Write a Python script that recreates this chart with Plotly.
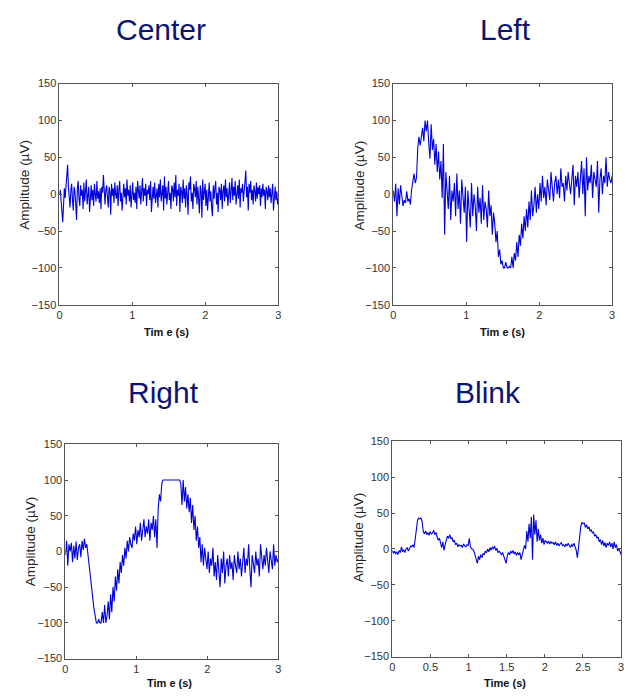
import numpy as np
import plotly.graph_objects as go

W, H = 632, 696

# ---------------- data ----------------
center_uv = [
    0, 6, -8, -20, -38, -15, 8, -5, 12, 20,
    40, 10, -12, -18, 6, 14, -8, -22, 10, 4,
    -14, -35, 8, 18, -6, -16, 12, -2, 6, -20,
    16, -10, 4, 20, -14, -4, 10, -24, 2, 12,
    -8, 6, -16, 14, 0, -10, 18, -6, 4, -12,
    8, -20, 10, 2, 26, -8, -14, 6, 12, -4,
    -18, 10, 4, -28, 14, -2, 8, -12, 16, 0,
    -6, 12, -16, 6, 18, -10, 2, -22, 10, 14,
    -4, 8, -14, 20, -2, 6, -10, 12, -18, 4,
    16, -8, 2, -12, 10, -20, 18, 6, -6, 12,
    -14, 4, 22, -10, 8, -2, 14, -16, 6, 0,
    12, -8, 18, -24, 4, 10, -6, 16, -12, 2,
    8, -18, 14, -4, 20, -10, 6, 12, -22, 24,
    -6, 10, -14, 4, 18, -8, 2, -20, 12, 8,
    -10, 16, -4, 26, -16, 6, -2, 14, -24, 10,
    4, -12, 20, -6, 8, -18, 12, 0, -28, 16,
    6, 24, -10, 2, -20, 14, 8, -4, 18, -14,
    10, -6, -26, 12, 4, -32, 20, -8, 2, 14,
    -16, 6, -22, 10, 16, -10, 4, -18, -30, 12,
    -6, 8, 18, -14, 2, -24, 10, 6, -8, 14,
    -20, 4, 12, -10, 20, -4, 8, -16, 2, 16,
    -12, 6, 22, -8, 10, -2, 18, -14, 4, 12,
    -6, 20, -18, 8, 2, 14, -10, 6, 16, 32,
    -4, 10, -22, 14, 2, 18, -8, 6, -14, 12,
    4, -10, 16, -6, 10, 0, 12, -16, 8, -4,
    14, -2, 6, -20, 10, 4, -8, 12, -4, 8,
    -12, 6, 14, -22, 2, 10, -8, 4, -14, -6,
]

left_uv = [
    5, -10, 14, -30, 8, -14, 12, -4, -16, -8, -12, 4, -10, -6, -14, 6,
    18, 28, 15, 22,
    62, 78, 66, 80, 90, 72, 100, 85, 100, 70,
    48, 95, 60, 75, 40, 68, 30, 58, 20, 45,
    -5, 68, -55, 30, 10, -20, 25, -35, 5, -10,
    15, -30, 28, -20, 5, -40, 20, -10, -25, 10,
    -65, 5, -20, -45, 15, -30, 0, -15, -50, 10,
    -25, -5, -40, 12, -35, -10, -20, -45, 5, -30,
    -15, -55, -25, -40, -65, -50, -85, -75, -95, -90,
    -100, -100, -92, -100, -100, -98, -100, -85, -100, -80,
    -90, -65, -85, -55, -70, -40, -60, -30, -50, -20,
    -45, -10, -35, 5, -30, -15, 10, -25, 0, -20,
    15, -10, 25, -5, 10, -15, 20, 0, -8, 30,
    5, -10, 15, 25, 0, 20, -5, 35, 10, 15,
    -10, 25, 5, 30, 15, 0, 20, 40, -15, 25,
    10, 30, -5, 20, 45, 0, 35, -30, 50, 5,
    25, 15, 40, -5, 30, 20, 10, 45, -25, 20,
    35, 0, 25, 15, 50, 10, 30, 20, 15, 25,
]

right_uv = [
    -5, 15, -20, 10, 0, 12, -15, 8, -10, 14,
    -12, 5, 10, -8, 15, 2, 18, 5, 10, -5,
    -20, -40, -55, -65, -80, -90, -100,
    -100, -95, -100, -100, -85, -100, -75, -100, -90, -70,
    -95, -60, -85, -50, -70, -35, -55, -25, -45, -15,
    -30, -5, -20, 5, -10, 15, 0, 20, 10, 5,
    25, 15, 35, 10, 30, 20, 40, 15, 30, 45,
    20, 35, 25, 45, 15, 40, 30, 50, 20, 45,
    5, 60, 80, 70, 95, 100,
    100, 100, 100, 100, 100, 100, 100, 100, 100, 100, 100, 100, 100, 100,
    95, 65, 100, 70, 90, 60, 80, 55, 75, 40, 65, 30, 50, 15, 35, 5, 20, -15, 10, -20, 5, -10, -25,
    0, -30, -10, -20, 5, -35, -15, -40, -5, -25,
    -50, -10, -30, 0, -45, -20, -10, -35, -5, -25,
    -15, -40, -5, -20, -30, 0, -25, -10, -35, -15,
    5, -30, -10, -20, 10, -25, -50, -5, -15, -30,
    0, -20, -10, -35, 10, -15, -25, -5, -20, 5,
    -15, -30, 0, -10, -25, 10, -20, -5, -15, -10,
]

blink_uv = [
    -2, -6, -3, -7, -4, -8, -2, -5, 3, -4, -1, -5, 0, 2, -3, 1, 4, 3, 6, 2,
    18, 32, 40, 43, 42, 43, 38, 24, 21, 25,
    20, 23, 19, 24, 21, 22, 26, 20, 23, 17,
    12, 15, 8, 2, 10, -2, 6, 12, 18, 15,
    20, 14, 16, 10, 12, 6, 8, 3, 6, 4,
    5, 2, 7, 4, 3, 6, 5, 15, 3, 0,
    0, -3, -8, -12, -20, -10, -15, -8, -12, -6,
    -8, -3, -5, 0, -4, 2, -2, 3, 0, 4,
    -2, 1, -5, -3, -6, -8, -5, -10, -14, -20,
    -10, -5, -8, -3, -6, -2, -7, -4, -9, -5,
    -8, -5, -15, -8, -3, 5, 0, 25, 10, 35,
    15, 45, -15, 48, 20, 40, 10, 28, 12, 20,
    8, 15, 6, 12, 10, 8, 11, 7, 10, 8,
    9, 6, 10, 5, 8, 4, 7, 9, 5, 6,
    3, 7, 4, 8, 5, 2, 6, 4, 8, 3,
    -2, -12, 5, 25, 32, 37, 35, 36, 30, 34,
    28, 31, 25, 27, 22, 24, 18, 20, 15, 17,
    10, 13, 6, 12, 4, 9, 2, 8, 5, 10,
    3, 8, 0, 10, 2, 6, -3, 1, -5, -8,
]

panel_titles = ["Center", "Left", "Right", "Blink"]
y_ticks = [-150, -100, -50, 0, 50, 100, 150]
x_ticks_a = [0, 1, 2, 3]
x_ticks_b = [0, 0.5, 1, 1.5, 2, 2.5, 3]
t_end = 3.0

# ---------------- layout helpers ----------------
def px_x(p):
    return p / W

def px_y(p):
    return 1 - p / H

# plot boxes in pixels: (left, right, top, bottom)
boxes = [
    (57, 278, 79, 304),
    (394, 615, 79, 304),
    (63, 278, 446, 664),
    (393, 624, 443, 662),
]
series = [center_uv, left_uv, right_uv, blink_uv]
xticks = [x_ticks_a, x_ticks_a, x_ticks_a, x_ticks_b]

fig = go.Figure()
line_color = "#0000dd"
axis_color = "#555555"
tick_font = dict(family="Arial, Liberation Sans, sans-serif", size=11, color="#333333")

for k, (vals, box, xt) in enumerate(zip(series, boxes, xticks)):
    n = len(vals)
    t = np.arange(n) * (t_end / (n - 1))
    sfx = "" if k == 0 else str(k + 1)
    fig.add_trace(go.Scatter(
        x=t, y=vals, mode="lines",
        line=dict(color=line_color, width=1.1),
        xaxis="x" + sfx, yaxis="y" + sfx, showlegend=False,
    ))
    l, r, tp, b = box
    common = dict(showline=True, linecolor=axis_color, linewidth=1, mirror="ticks",
                  ticks="inside", ticklen=3, tickcolor=axis_color, showgrid=False,
                  zeroline=False, tickfont=tick_font)
    fig.update_layout(**{
        "xaxis" + sfx: dict(domain=[px_x(l), px_x(r)], range=[0, 3], tickvals=xt,
                            anchor="y" + sfx, **common),
        "yaxis" + sfx: dict(domain=[px_y(b), px_y(tp)], range=[-150, 150], tickvals=y_ticks,
                            anchor="x" + sfx, **common),
    })

annotations = []
title_pos = [(160, 24), (507, 24), (162, 393), (490, 393)]
for txt, (x, y) in zip(panel_titles, title_pos):
    annotations.append(dict(text=txt, x=px_x(x), y=px_y(y), xref="paper", yref="paper",
                            showarrow=False, xanchor="center", yanchor="middle",
                            font=dict(family="Arial, Liberation Sans, sans-serif", size=30,
                                      color="#0b1470")))

ylab_pos = [(22, 182), (360, 183), (28, 545), (359, 541)]
for (x, y) in ylab_pos:
    annotations.append(dict(text="Amplitude (µV)", x=px_x(x), y=px_y(y), xref="paper",
                            yref="paper", showarrow=False, textangle=-90,
                            xanchor="center", yanchor="middle",
                            font=dict(family="Arial, Liberation Sans, sans-serif", size=13.5,
                                      color="#222222")))

xlab = [("Tim e (s)", 165, 332), ("Tim e (s)", 504, 332), ("Tim e (s)", 168, 689),
        ("Time (s)", 507, 689)]
for txt, x, y in xlab:
    annotations.append(dict(text="<b>" + txt + "</b>", x=px_x(x), y=px_y(y), xref="paper",
                            yref="paper", showarrow=False, xanchor="center", yanchor="middle",
                            font=dict(family="Arial, Liberation Sans, sans-serif", size=11,
                                      color="#111111")))

fig.update_layout(
    width=W, height=H, margin=dict(l=0, r=0, t=0, b=0),
    paper_bgcolor="white", plot_bgcolor="white",
    annotations=annotations,
)

fig.write_html("out.html", config={"displayModeBar": False},
               post_script="document.body.style.margin='0px';document.body.style.padding='0px';")
